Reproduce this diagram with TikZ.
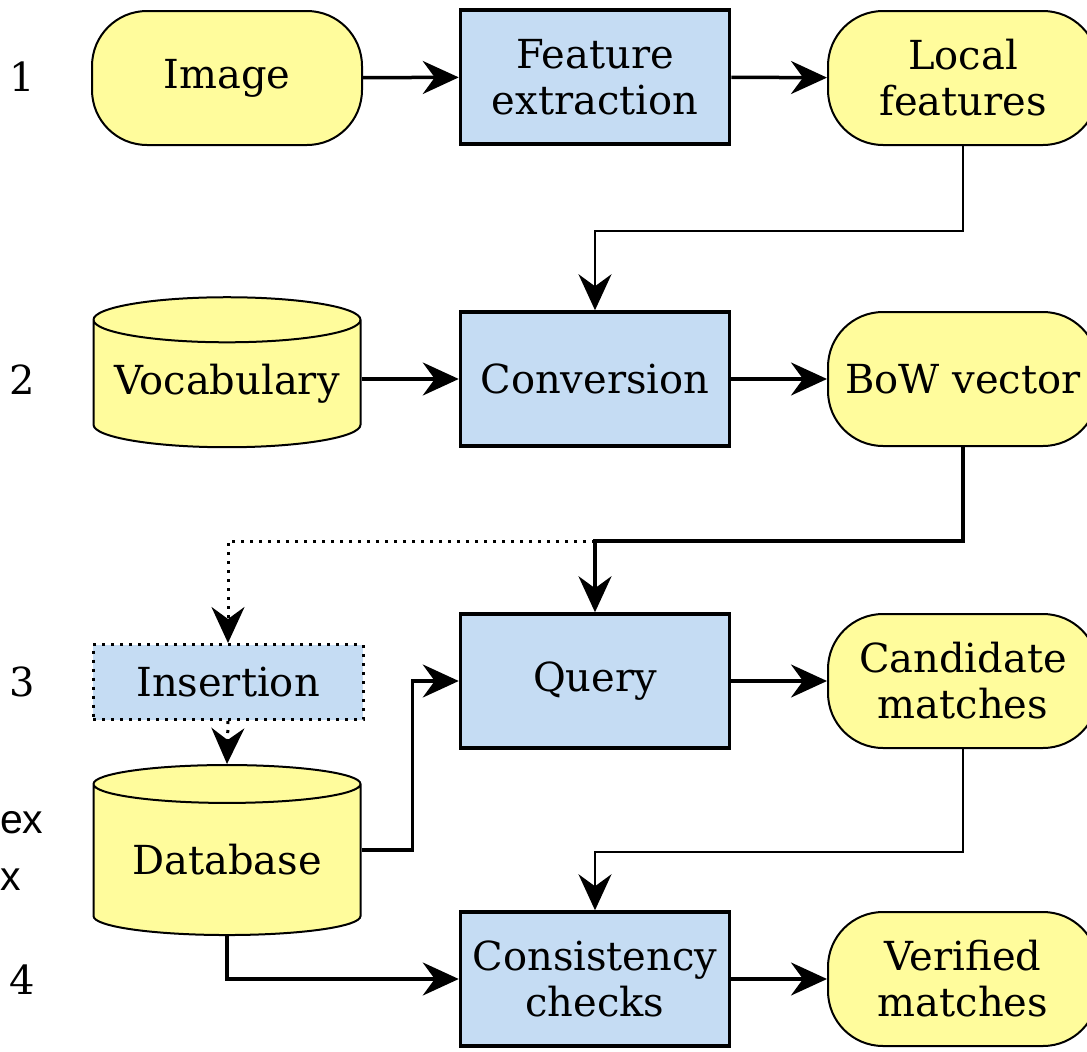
\documentclass[tikz,border=0pt]{standalone}
\usepackage{fontspec}
\setmainfont{DejaVu Serif}
\newfontfamily\sidefont{Liberation Sans}
\usetikzlibrary{arrows.meta,shapes.geometric}

\definecolor{stepblue}{RGB}{197,220,243}
\definecolor{datayellow}{RGB}{255,252,156}

\tikzset{
	proc/.style={draw, line width=3.5pt, fill=stepblue, minimum width=269pt, minimum height=134pt, align=center, inner sep=0pt},
	result/.style={draw, line width=2pt, fill=datayellow, rounded corners=55pt, minimum width=270pt, minimum height=134pt, align=center, inner sep=0pt},
	store/.style={draw, line width=2pt, fill=datayellow, cylinder, shape border rotate=90, aspect=0.2, minimum width=267pt, inner sep=0pt},
	flow/.style={line width=3.5pt, -{Stealth[length=36pt,width=33pt,inset=12pt]}},
	thinflow/.style={flow, line width=2pt},
	dotflow/.style={flow, line width=3pt, dash pattern=on 3pt off 6pt},
}

\begin{document}
\begin{tikzpicture}[x=1pt,y=-1pt,font=\fontsize{40}{46}\selectfont]
	\useasboundingbox (0,0) rectangle (1087,1052);

	% step numbers
	\node (n1) at (22,77) {1};
	\node (n2) at (22,380) {2};
	\node (n3) at (22,682) {3};
	\node (n4) at (22,980) {4};
	\node [anchor=west, inner sep=0pt, font=\sidefont\fontsize{41}{46}\selectfont] (sidea) at (0,823) {ex};
	\node [anchor=west, inner sep=0pt, font=\sidefont\fontsize{41}{46}\selectfont] (sideb) at (0,880) {x};

	% row 1
	\node [result] (image) at (227,78) {Image};
	\node [proc] (feat) at (595,77) {Feature\\extraction};
	\node [result] (local) at (963,78) {Local\\features};

	% row 2
	\node [store, minimum height=150pt] (vocab) at (227,384) {Vocabulary};
	\node [proc] (conv) at (595,379) {Conversion};
	\node [result] (bow) at (963,379) {BoW vector};

	% row 3
	\node [proc, dash pattern=on 3pt off 6pt, line width=3pt, minimum width=270pt, minimum height=75pt] (insert) at (228,682) {Insertion};
	\node [store, minimum height=170pt] (db) at (227,860) {Database};
	\node [proc] (query) at (595,681) {Query};
	\node [result] (cand) at (963,681) {Candidate\\matches};

	% row 4
	\node [proc] (cons) at (595,979) {Consistency\\checks};
	\node [result] (verif) at (963,979) {Verified\\matches};

	\coordinate (fork) at (595,541);

	\draw [flow] (image) -- (feat);
	\draw [flow] (feat) -- (local);
	\draw [thinflow] (local.south) -- ++(0,85) -| (conv.north);
	\draw [flow] (vocab.east |- conv.west) -- (conv.west);
	\draw [flow] (conv) -- (bow);
	\draw [flow] (bow.south) |- (fork) -- (query.north);
	\draw [dotflow] (fork) -| (insert.north);
	\draw [dotflow] (insert.south) -- (db.north);
	\draw [flow] (db.shape center -| db.east) -- ++(51,0) |- (query.west);
	\draw [flow] (query) -- (cand);
	\draw [thinflow] (cand.south) -- ++(0,103) -| (cons.north);
	\draw [flow] (db.south) |- (cons.west);
	\draw [flow] (cons) -- (verif);
\end{tikzpicture}
\end{document}
